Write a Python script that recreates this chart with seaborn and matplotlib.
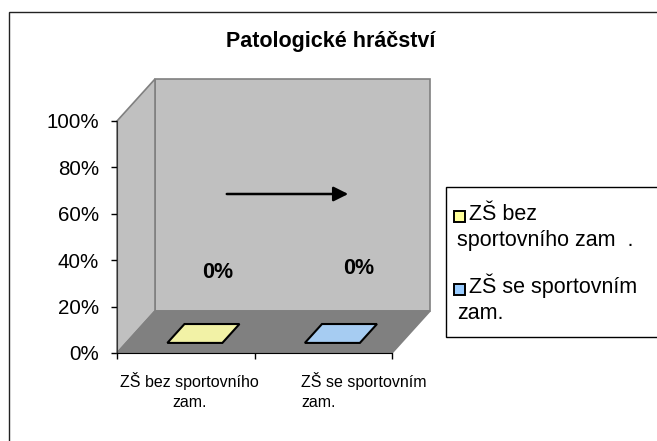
import matplotlib
matplotlib.use("Agg")
import matplotlib.pyplot as plt
import matplotlib.transforms as mtransforms
from matplotlib.patches import Polygon, Rectangle, FancyArrowPatch
import seaborn as sns

# data
categories = ["ZŠ bez sportovního\nzam.", "ZŠ se sportovním\nzam."]
values = [0.0, 0.0]
colors = ["#ffff99", "#99ccff"]
legend_labels = [["ZŠ bez", "sportovního zam  ."], ["ZŠ se sportovním", "zam."]]
yticks = [0, 0.2, 0.4, 0.6, 0.8, 1.0]
title = "Patologické hráčství"

sns.set_style("white")
plt.rcParams["font.family"] = ["Liberation Sans", "DejaVu Sans"]
plt.rcParams["text.color"] = "black"
plt.rcParams["xtick.color"] = "black"
plt.rcParams["ytick.color"] = "black"

W, H = 657, 441
fig = plt.figure(figsize=(W / 100, H / 100), dpi=100)
fig.patch.set_facecolor("white")


def px(x, y):
    # pixel position (from top-left) -> figure fraction
    return x / W, 1 - y / H


# outer chart frame (cut by the right/bottom image edge)
fig.patches.append(Rectangle((9 / W, -0.1), 1.2, 1 - 12 / H + 0.1, transform=fig.transFigure,
                             fill=False, edgecolor="#222222", lw=1.0))

ax = fig.add_axes([117 / W, (H - 353) / H, 275 / W, 232 / H])
ax.set_facecolor("none")
ax.set_xlim(-0.5, 1.5)
ax.set_ylim(0, 1)

# depth of the 3D box, in data units
dx = 38 / 137.5
dy = 42 / 232
f1, f2 = 0.24, 0.69

wall = "#c0c0c0"
edge = "#808080"
ax.add_patch(Polygon([(-0.5 + dx, dy), (1.5 + dx, dy), (1.5 + dx, 1 + dy), (-0.5 + dx, 1 + dy)],
                     closed=True, facecolor=wall, edgecolor=edge, lw=1.2, clip_on=False, zorder=0.5))
ax.add_patch(Polygon([(-0.5, 0), (-0.5 + dx, dy), (-0.5 + dx, 1 + dy), (-0.5, 1)],
                     closed=True, facecolor=wall, edgecolor=edge, lw=1.2, clip_on=False, zorder=0.5))
ax.add_patch(Polygon([(-0.5, 0), (1.5, 0), (1.5 + dx, dy), (-0.5 + dx, dy)],
                     closed=True, facecolor="#808080", edgecolor=edge, lw=1.2, clip_on=False, zorder=0.6))

n_before = len(ax.patches)
sns.barplot(x=list(range(len(values))), y=values, hue=list(range(len(values))), palette=colors,
            width=0.4, linewidth=0, legend=False, ax=ax, native_scale=True)

# 3D top faces of the (zero height) bars
for p, v in zip(ax.patches[n_before:], values):
    x0 = p.get_x()
    x1 = x0 + p.get_width()
    ax.add_patch(Polygon([(x0 + f1 * dx, v + f1 * dy), (x1 + f1 * dx, v + f1 * dy),
                          (x1 + f2 * dx, v + f2 * dy), (x0 + f2 * dx, v + f2 * dy)],
                         closed=True, facecolor=p.get_facecolor(), edgecolor="black",
                         lw=1.5, clip_on=False, zorder=2))

# data labels
label_offsets = [(32, 80), (35, 84)]
for i, (v, off) in enumerate(zip(values, label_offsets)):
    ax.annotate(f"{v:.0%}", (i, v), xytext=off, textcoords="offset pixels",
                ha="center", va="center", fontsize=15.5, fontweight="bold", zorder=3)

# arrow on the back wall
fig.add_artist(FancyArrowPatch(px(224, 194), px(351, 194), transform=fig.transFigure,
                               arrowstyle="-|>", mutation_scale=22, lw=1.8, color="black"))

# axes
ax.set_yticks(yticks)
ax.set_yticklabels([f"{t:.0%}" for t in yticks], fontsize=14.8)
ax.set_xticks([0, 1])
ax.set_xticklabels(categories, fontsize=11.5, linespacing=1.35)
ax.set_xticks([-0.5, 0.5, 1.5], minor=True)
ax.tick_params(axis="x", which="major", length=0, pad=14)
ax.tick_params(axis="x", which="minor", length=4, width=1, direction="out", color="black", bottom=True)
ax.tick_params(axis="y", length=4, width=1, direction="out", color="black", pad=9, left=True)

# shift / align the category labels like the original
label_style = [("center", "center", 4), ("left", "left", -22)]
for lbl, (ha, ma, shift) in zip(ax.get_xticklabels(), label_style):
    lbl.set_horizontalalignment(ha)
    lbl.set_multialignment(ma)
    lbl.set_transform(lbl.get_transform() + mtransforms.ScaledTranslation(shift / 100, 0, fig.dpi_scale_trans))

for s in ["top", "right"]:
    ax.spines[s].set_visible(False)
ax.spines["left"].set_color("#333333")
ax.spines["bottom"].set_color("black")
ax.spines["left"].set_zorder(1)
ax.spines["bottom"].set_zorder(1)
ax.set_xlabel("")
ax.set_ylabel("")

fig.text(*px(331, 42), title, ha="center", va="center", fontsize=15.5, fontweight="bold")

# legend box, drawn by hand: first line next to the key, wrapped line under the key
fig.patches.append(Rectangle(px(446, 337), 0.5, (337 - 187) / H, transform=fig.transFigure,
                             facecolor="white", edgecolor="black", lw=1.0))
entry_base = [220, 293]
for c, lab, base in zip(colors, legend_labels, entry_base):
    fig.patches.append(Rectangle(px(454, base + 2), 11 / W, 11 / H, transform=fig.transFigure,
                                 facecolor=c, edgecolor="black", lw=1.4))
    fig.text(*px(469, base), lab[0], ha="left", va="baseline", fontsize=15.5)
    fig.text(*px(457, base + 26), lab[1], ha="left", va="baseline", fontsize=15.5)

fig.savefig("out.png", dpi=100)
